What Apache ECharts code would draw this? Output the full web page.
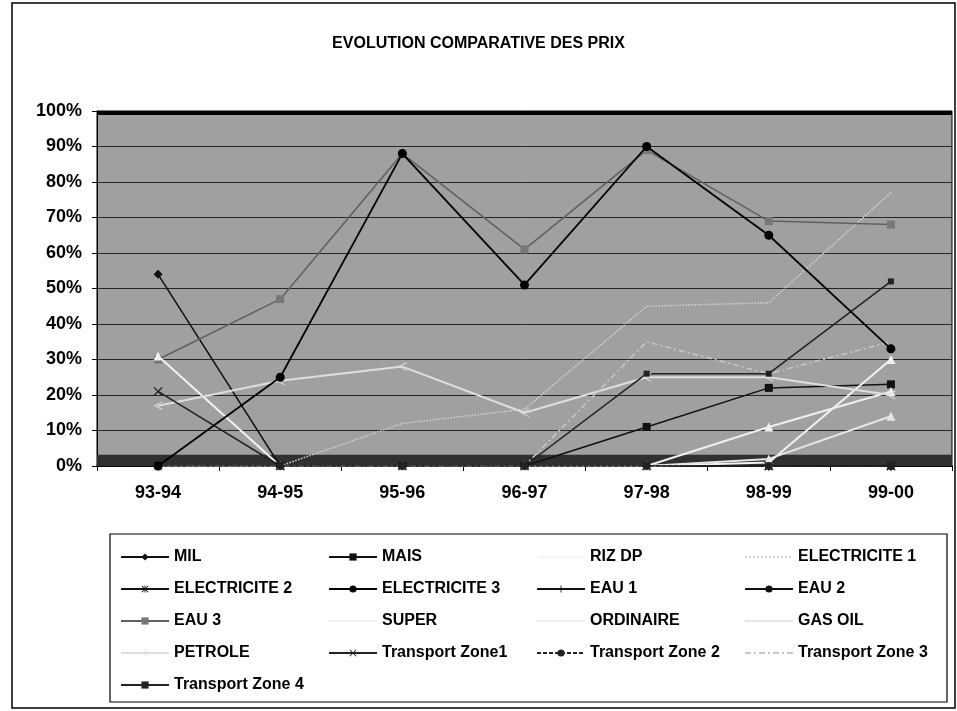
<!DOCTYPE html>
<html>
<head>
<meta charset="utf-8">
<script src="https://cdn.jsdelivr.net/npm/echarts@6/dist/echarts.min.js"></script>
<style>
html,body{margin:0;padding:0;background:#fff;}
#chart{width:957px;height:711px;}
</style>
</head>
<body>
<div id="chart"></div>
<script>
var categories = ['93-94','94-95','95-96','96-97','97-98','98-99','99-00'];
var yTicks = [0,10,20,30,40,50,60,70,80,90,100];

var MIL              = [54, 0, 0, 0, 0, 0, 0];
var MAIS             = [0, 0, 0, 0, 11, 22, 23];
var RIZ_DP           = [0, 0, 0, 0, 0, 0, 0];
var ELECTRICITE_1    = [0, 0, 12, 16, 45, 46, 77];
var ELECTRICITE_2    = [0, 0, 0, 0, 0, 0, 0];
var ELECTRICITE_3    = [0, 25, 88, 51, 90, 65, 33];
var EAU_1            = [0, 0, 0, 0, 0, 0, 0];
var EAU_2            = [0, 0, 0, 0, 0, 0, 0];
var EAU_3            = [30, 47, 88, 61, 89, 69, 68];
var SUPER            = [31, 0, 0, 0, 0, 1, 30];
var ORDINAIRE        = [0, 0, 0, 0, 0, 11, 21];
var GAS_OIL          = [0, 0, 0, 0, 0, 2, 14];
var PETROLE          = [17, 24, 28, 15, 25, 25, 20];
var TRANSPORT_ZONE1  = [21, 0, 0, 0, 0, 0, 0];
var TRANSPORT_ZONE2  = [0, 0, 0, 0, 0, 0, 0];
var TRANSPORT_ZONE3  = [0, 0, 0, 0, 35, 26, 35];
var TRANSPORT_ZONE4  = [0, 0, 0, 0, 26, 26, 52];

var FONT = "'Liberation Sans', Arial, sans-serif";
var ASTERISK = 'path://M0,1L1,0L10,9L9,10Z M9,0L10,1L1,10L0,9Z M4.4,0H5.6V10H4.4Z';
var PLUS = 'path://M4.4,0H5.6V10H4.4Z M0,4.4H10V5.6H0Z';
var XMARK = 'path://M0,1L1,0L10,9L9,10Z M9,0L10,1L1,10L0,9Z';
var LT = 'path://M10,0L0,5L10,10L10,8.8L2.4,5L10,1.2Z';

function mk(name, data, color, opt) {
  opt = opt || {};
  return {
    name: name, type: 'line', data: data,
    symbol: opt.symbol || 'none',
    symbolSize: opt.size || 8,
    showSymbol: true,
    lineStyle: {color: color, width: opt.width || 1.5, type: opt.lineType || 'solid'},
    itemStyle: {color: opt.markColor || color, borderWidth: 0},
    emphasis: {disabled: true},
    z: opt.z || 2,
    animation: false
  };
}

var series = [
  mk('MIL', MIL, '#111', {symbol: 'diamond', size: 9}),
  mk('MAIS', MAIS, '#111', {symbol: 'rect', size: 8}),
  mk('RIZ DP', RIZ_DP, '#f4f4f4', {symbol: 'none'}),
  mk('ELECTRICITE 1', ELECTRICITE_1, '#d4d4d4', {lineType: 'dotted', width: 1.5}),
  mk('ELECTRICITE 2', ELECTRICITE_2, '#111', {symbol: ASTERISK, size: 9}),
  mk('ELECTRICITE 3', ELECTRICITE_3, '#000', {symbol: 'circle', size: 9, width: 1.8, z: 5}),
  mk('EAU 1', EAU_1, '#111', {symbol: PLUS, size: 9}),
  mk('EAU 2', EAU_2, '#111', {symbol: 'circle', size: 5, width: 2}),
  mk('EAU 3', EAU_3, '#606060', {symbol: 'rect', size: 8, markColor: '#777'}),
  mk('SUPER', SUPER, '#f2f2f2', {symbol: 'triangle', size: 9, width: 2}),
  mk('ORDINAIRE', ORDINAIRE, '#efefef', {symbol: 'triangle', size: 9, width: 2}),
  mk('GAS OIL', GAS_OIL, '#e6e6e6', {symbol: 'triangle', size: 9, width: 2}),
  mk('PETROLE', PETROLE, '#dedede', {symbol: LT, size: 9, width: 2}),
  mk('Transport Zone1', TRANSPORT_ZONE1, '#222', {symbol: XMARK, size: 9}),
  mk('Transport Zone 2', TRANSPORT_ZONE2, '#222', {symbol: 'circle', size: 8, lineType: [4, 2]}),
  mk('Transport Zone 3', TRANSPORT_ZONE3, '#c8c8c8', {lineType: [6, 3, 2, 3]}),
  mk('Transport Zone 4', TRANSPORT_ZONE4, '#222', {symbol: 'rect', size: 6})
];

// plot-area bands (top border, bottom dark band)
series[0].markArea = {
  silent: true,
  data: [
    [{yAxis: 98.9, itemStyle: {color: '#000'}}, {yAxis: 100}],
    [{yAxis: 0, itemStyle: {color: '#303030'}}, {yAxis: 3.2}]
  ]
};

var noMarker = ['RIZ DP', 'ELECTRICITE 1', 'SUPER', 'ORDINAIRE', 'GAS OIL', 'Transport Zone 3'];
var columns = [
  ['MIL', 'ELECTRICITE 2', 'EAU 3', 'PETROLE', 'Transport Zone 4'],
  ['MAIS', 'ELECTRICITE 3', 'SUPER', 'Transport Zone1'],
  ['RIZ DP', 'EAU 1', 'ORDINAIRE', 'Transport Zone 2'],
  ['ELECTRICITE 1', 'EAU 2', 'GAS OIL', 'Transport Zone 3']
];
var colLeft = [115, 323, 531, 739];
var legends = columns.map(function (c, i) {
  return {
    data: c.map(function (n) {
      return noMarker.indexOf(n) >= 0 ? {name: n, itemStyle: {opacity: 0}} : {name: n};
    }),
    orient: 'vertical', left: colLeft[i], top: 544,
    itemWidth: 48, itemHeight: 9, itemGap: 16,
    selectedMode: false,
    textStyle: {fontFamily: FONT, fontWeight: 'bold', fontSize: 16, color: '#000', lineHeight: 16}
  };
});

var chart = echarts.init(document.getElementById('chart'), null, {renderer: 'canvas'});
chart.setOption({
  backgroundColor: '#fff',
  animation: false,
  title: {
    text: 'EVOLUTION COMPARATIVE DES PRIX',
    left: 'center', top: 31,
    textStyle: {fontFamily: FONT, fontWeight: 'bold', fontSize: 16, color: '#000'}
  },
  graphic: [
    {type: 'rect', shape: {x: 12, y: 3, width: 943, height: 705}, style: {fill: 'none', stroke: '#000', lineWidth: 1.5}, silent: true},
    {type: 'rect', shape: {x: 110, y: 534, width: 837, height: 168}, style: {fill: 'none', stroke: '#000', lineWidth: 1.2}, silent: true}
  ],
  legend: legends,
  grid: {left: 97, right: 5, top: 111, bottom: 245, show: true, backgroundColor: '#a0a0a0', borderColor: '#000', borderWidth: 1},
  xAxis: {
    type: 'category', data: categories, boundaryGap: true,
    axisLine: {lineStyle: {color: '#000', width: 1.5}},
    axisTick: {show: true, length: 5, lineStyle: {color: '#000'}},
    axisLabel: {fontFamily: FONT, fontWeight: 'bold', fontSize: 18, color: '#000', margin: 18}
  },
  yAxis: {
    type: 'value', min: 0, max: 100, interval: 10,
    axisLine: {show: true, lineStyle: {color: '#000'}},
    axisTick: {show: true, length: 5, lineStyle: {color: '#000'}},
    axisLabel: {fontFamily: FONT, fontWeight: 'bold', fontSize: 18, color: '#000', margin: 15,
      formatter: function (v) { return yTicks.indexOf(v) >= 0 ? v + '%' : ''; }},
    splitLine: {show: true, lineStyle: {color: '#262626', width: 1}}
  },
  series: series
});
</script>
</body>
</html>
